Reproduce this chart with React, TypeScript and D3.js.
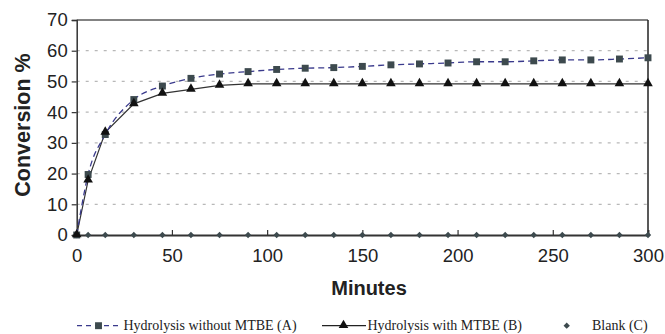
import { useRef, useEffect } from "react";
import * as d3 from "d3";

const svg_width = 665;
const svg_height = 334;

// minutes
const times = [0, 6, 15, 30, 45, 60, 75, 90, 105, 120, 135, 150, 165, 180, 195, 210, 225, 240, 255, 270, 285, 300];
// Hydrolysis without MTBE (A)
const series_a = [0, 19.7, 32.7, 44.1, 48.5, 51.0, 52.4, 53.2, 53.9, 54.3, 54.5, 54.9, 55.4, 55.7, 56.0, 56.4, 56.4, 56.7, 57.0, 57.0, 57.3, 57.7];
// Hydrolysis with MTBE (B)
const series_b = [0, 17.8, 33.4, 42.7, 46.1, 47.4, 48.7, 49.2, 49.2, 49.2, 49.2, 49.2, 49.2, 49.2, 49.2, 49.2, 49.2, 49.2, 49.2, 49.2, 49.2, 49.2];
// Blank (C)
const series_c = [0, 0, 0, 0, 0, 0, 0, 0, 0, 0, 0, 0, 0, 0, 0, 0, 0, 0, 0, 0, 0, 0];

const x_ticks = [0, 50, 100, 150, 200, 250, 300];
const y_ticks = [0, 10, 20, 30, 40, 50, 60, 70];

const legend_labels = ["Hydrolysis without MTBE (A)", "Hydrolysis with MTBE (B)", "Blank (C)"];

const margin = { left: 76.7, right: 17, top: 20, bottom: 99 };

const marker_fill = "#3d4a4e";
const line_a_color = "#3a3a8c";

export default function App() {
    const ref = useRef<SVGSVGElement>(null);

    useEffect(() => {
        const svg = d3.select(ref.current);
        svg.selectAll("*").remove();

        const x = d3.scaleLinear()
            .domain([0, 300])
            .range([margin.left, svg_width - margin.right]);

        const y = d3.scaleLinear()
            .domain([0, 70])
            .range([svg_height - margin.bottom, margin.top]);

        const sans = "'Liberation Sans', Arial, sans-serif";
        const serif = "'Liberation Serif', 'Times New Roman', serif";

        // grid
        svg.append("g")
            .selectAll("line")
            .data(y_ticks.filter(d => d > 0 && d < 70))
            .join("line")
                .attr("x1", x(0))
                .attr("x2", x(300))
                .attr("y1", d => y(d))
                .attr("y2", d => y(d))
                .attr("stroke", "#b8b8b8")
                .attr("stroke-width", 1.2)
                .attr("stroke-dasharray", "3,6");

        // frame
        svg.append("line")
            .attr("x1", x(0)).attr("x2", x(300))
            .attr("y1", y(70)).attr("y2", y(70))
            .attr("stroke", "#5a5a5a").attr("stroke-width", 1.5);
        svg.append("line")
            .attr("x1", x(300)).attr("x2", x(300))
            .attr("y1", y(70)).attr("y2", y(0))
            .attr("stroke", "#222").attr("stroke-width", 1.5);

        // axes
        const yAxis = svg.append("g")
            .attr("transform", `translate(${x(0)},0)`)
            .call(d3.axisLeft(y).tickValues(y_ticks).tickSize(5).tickPadding(4));
        yAxis.select(".domain").attr("stroke", "#333").attr("stroke-width", 1.5);
        yAxis.selectAll(".tick line").attr("stroke", "#333").attr("stroke-width", 1.2);
        yAxis.selectAll(".tick text")
            .attr("font-family", sans)
            .attr("font-size", 18.5)
            .attr("fill", "#222");

        const xAxis = svg.append("g")
            .attr("transform", `translate(0,${y(0)})`)
            .call(d3.axisBottom(x).tickValues(x_ticks).tickSize(-5).tickPadding(14));
        xAxis.select(".domain").attr("stroke", "#333").attr("stroke-width", 1.8);
        xAxis.selectAll(".tick line").attr("stroke", "#333").attr("stroke-width", 1.2);
        xAxis.selectAll(".tick text")
            .attr("font-family", sans)
            .attr("font-size", 18.5)
            .attr("fill", "#222");

        // axis titles
        svg.append("text")
            .attr("x", 369)
            .attr("y", 295)
            .attr("text-anchor", "middle")
            .attr("font-family", sans)
            .attr("font-weight", "bold")
            .attr("font-size", 20)
            .attr("fill", "#222")
            .text("Minutes");

        svg.append("text")
            .attr("transform", `translate(30,125) rotate(-90)`)
            .attr("text-anchor", "middle")
            .attr("font-family", sans)
            .attr("font-weight", "bold")
            .attr("font-size", 21.5)
            .attr("fill", "#222")
            .text("Conversion %");

        const pts = (vals: number[]) => times.map((t, i) => [x(t), y(vals[i])] as [number, number]);

        // series B line
        svg.append("path")
            .attr("d", d3.line()(pts(series_b)))
            .attr("fill", "none")
            .attr("stroke", "#333")
            .attr("stroke-width", 1.2);

        // series A line
        svg.append("path")
            .attr("d", d3.line().curve(d3.curveMonotoneX)(pts(series_a)))
            .attr("fill", "none")
            .attr("stroke", line_a_color)
            .attr("stroke-width", 1.3)
            .attr("stroke-dasharray", "6,4");

        const square = d3.symbol().type(d3.symbolSquare).size(48);
        const triangle = d3.symbol().type(d3.symbolTriangle).size(40);
        const diamond = d3.symbol().type(d3.symbolSquare).size(20);

        svg.append("g")
            .selectAll("path")
            .data(pts(series_c))
            .join("path")
                .attr("d", diamond())
                .attr("transform", d => `translate(${d[0]},${d[1]}) rotate(45)`)
                .attr("fill", marker_fill);

        svg.append("g")
            .selectAll("path")
            .data(pts(series_a))
            .join("path")
                .attr("d", square())
                .attr("transform", d => `translate(${d[0]},${d[1]})`)
                .attr("fill", marker_fill);

        svg.append("g")
            .selectAll("path")
            .data(pts(series_b))
            .join("path")
                .attr("d", triangle())
                .attr("transform", d => `translate(${d[0]},${d[1] - 0.5})`)
                .attr("fill", "#111");

        // legend
        const ly = 325.7;
        const lg = svg.append("g");

        lg.append("line")
            .attr("x1", 77).attr("x2", 122).attr("y1", ly).attr("y2", ly)
            .attr("stroke", line_a_color).attr("stroke-width", 1.2)
            .attr("stroke-dasharray", "5,4");
        lg.append("path").attr("d", square()).attr("transform", `translate(98.5,${ly})`).attr("fill", marker_fill);
        lg.append("text").attr("x", 123.5).attr("y", ly + 4.5)
            .attr("font-family", serif).attr("font-size", 14).attr("fill", "#222")
            .text(legend_labels[0]);

        lg.append("line")
            .attr("x1", 322).attr("x2", 366).attr("y1", ly).attr("y2", ly)
            .attr("stroke", "#222").attr("stroke-width", 1.2);
        lg.append("path").attr("d", triangle()).attr("transform", `translate(343.5,${ly - 0.5})`).attr("fill", "#111");
        lg.append("text").attr("x", 367.5).attr("y", ly + 4.5)
            .attr("font-family", serif).attr("font-size", 14).attr("fill", "#222")
            .text(legend_labels[1]);

        lg.append("path").attr("d", diamond()).attr("transform", `translate(566.7,${ly}) rotate(45)`).attr("fill", marker_fill);
        lg.append("text").attr("x", 592).attr("y", ly + 4.5)
            .attr("font-family", serif).attr("font-size", 14).attr("fill", "#222")
            .text(legend_labels[2]);
    }, [ref]);

    return (
        <svg
            ref={ref}
            width={svg_width}
            height={svg_height}
            style={{ position: "absolute", left: 0, top: 0, background: "white" }}
        />
    );
}
